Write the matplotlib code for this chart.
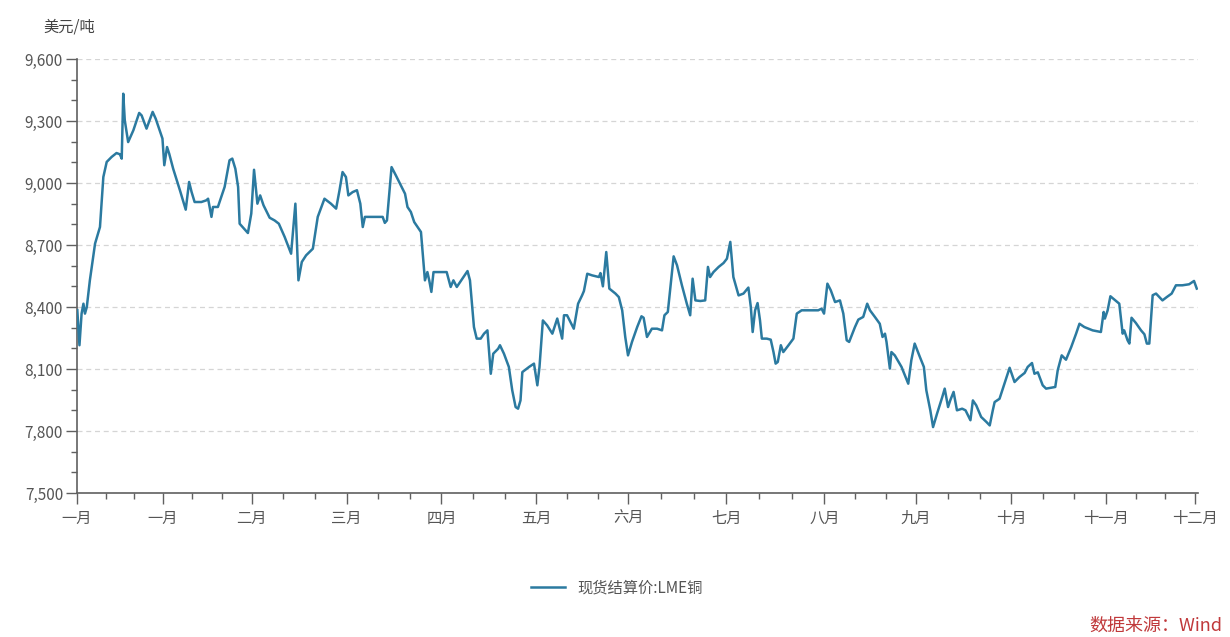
## LME copper settlement price, one year, line chart ##
import matplotlib
matplotlib.use('Agg')
import matplotlib.pyplot as plt
from matplotlib.ticker import FuncFormatter, FixedLocator

plt.rcParams['font.family'] = ['Noto Sans CJK SC', 'DejaVu Sans']

##############################################################################
#################################  Data  #####################################
##############################################################################
# day offsets (from the first tick) and price in USD/t
days = [0.1, 0.8, 1.5, 2.1, 2.6, 3.2, 4.2, 5.9, 7.0, 7.5, 8.6, 9.7, 11.3, 12.9,
        14.0, 14.6, 15.1, 15.6, 16.7, 18.4, 20.3, 21.1, 22.7, 24.7, 25.7, 27.0,
        27.9, 28.5, 29.4, 30.1, 31.4, 33.6, 35.5, 36.6, 37.4, 38.4, 40.6, 42.2,
        42.8, 43.9, 44.4, 46.0, 48.2, 49.8, 50.7, 51.7, 52.6, 53.1, 55.8, 56.9,
        57.8, 58.9, 59.8, 60.9, 62.9, 64.5, 65.9, 67.8, 69.9, 71.3, 72.3, 73.4,
        74.8, 77.0, 78.6, 80.8, 82.9, 84.6, 85.7, 86.7, 87.8, 88.6, 90.0, 91.4,
        92.5, 93.3, 94.0, 97.1, 99.8, 100.5, 101.2, 102.7, 104.1, 106.0, 107.1,
        107.9, 109.0, 110.1, 112.3, 113.6, 114.4, 115.0, 115.7, 116.4, 118.8,
        120.7, 122.0, 122.9, 124.0, 125.8, 127.5, 128.3, 129.6, 130.5, 131.8,
        132.9, 134.0, 135.1, 135.9, 137.5, 138.1, 139.4, 141.0, 142.1, 143.2,
        144.0, 144.8, 145.4, 147.6, 149.2, 150.3, 151.0, 152.1, 153.5, 155.2,
        156.8, 157.6, 158.4, 159.0, 160.0, 162.2, 163.6, 164.9, 165.5, 166.6,
        168.2, 170.4, 170.9, 171.7, 172.8, 173.8, 175.8, 176.9, 178.0, 179.0,
        179.9, 181.2, 182.9, 184.3, 185.0, 186.1, 187.7, 189.4, 191.0, 191.8,
        192.9, 194.8, 195.9, 197.5, 199.1, 200.2, 201.0, 201.9, 203.5, 205.1,
        206.0, 206.7, 207.8, 209.5, 211.1, 212.2, 213.3, 214.3, 216.0, 217.6,
        219.2, 220.0, 220.6, 221.4, 222.2, 223.0, 223.6, 225.2, 226.5, 227.4,
        228.1, 228.8, 229.8, 230.6, 232.3, 233.9, 235.0, 236.6, 239.3, 242.0,
        243.1, 243.9, 245.0, 246.1, 247.5, 249.1, 250.2, 251.3, 252.1, 254.0,
        255.1, 256.7, 258.0, 258.9, 260.5, 262.1, 263.0, 263.8, 264.3, 265.4,
        265.9, 267.0, 269.2, 271.4, 272.4, 273.5, 275.2, 276.5, 277.3, 278.6,
        279.5, 280.8, 282.5, 283.3, 284.4, 285.1, 286.2, 287.3, 289.0, 290.1,
        291.7, 292.5, 293.6, 295.2, 296.9, 298.0, 299.0, 299.6, 301.2, 302.8,
        304.5, 306.1, 307.7, 309.4, 310.4, 311.8, 312.6, 313.7, 315.3, 316.4,
        319.4, 320.2, 321.5, 322.9, 324.6, 326.2, 327.3, 328.9, 331.6, 334.3,
        335.2, 335.6, 336.5, 337.4, 338.7, 340.3, 341.4, 341.9, 343.0, 343.6,
        344.3, 345.7, 347.4, 348.5, 349.3, 350.1, 351.2, 352.3, 354.4, 355.8,
        357.4, 358.8, 360.9, 363.1, 364.7, 365.6]

price = [8385, 8215, 8368, 8416, 8368, 8400, 8529, 8707, 8763, 8787, 9029, 9102,
         9126, 9145, 9139, 9118, 9432, 9303, 9198, 9255, 9339, 9327, 9263, 9344,
         9311, 9255, 9215, 9086, 9174, 9142, 9069, 8965, 8871, 9005, 8957, 8908,
         8908, 8916, 8924, 8836, 8884, 8884, 8981, 9110, 9118, 9069, 8981, 8803,
         8758, 8852, 9064, 8900, 8940, 8892, 8832, 8819, 8803, 8739, 8658, 8900,
         8529, 8618, 8650, 8682, 8836, 8924, 8900, 8876, 8964, 9053, 9029, 8940,
         8956, 8965, 8900, 8787, 8836, 8836, 8836, 8807, 8819, 9077, 9037, 8981,
         8948, 8884, 8860, 8811, 8763, 8529, 8569, 8529, 8473, 8569, 8569, 8569,
         8497, 8529, 8497, 8537, 8574, 8529, 8303, 8247, 8247, 8271, 8287, 8077,
         8174, 8198, 8215, 8174, 8110, 7997, 7916, 7908, 7948, 8085, 8110, 8126,
         8021, 8110, 8335, 8311, 8271, 8344, 8295, 8247, 8360, 8360, 8295, 8416,
         8456, 8477, 8561, 8553, 8545, 8564, 8500, 8666, 8489, 8465, 8448, 8384,
         8255, 8166, 8231, 8303, 8355, 8348, 8255, 8295, 8295, 8287, 8360, 8376,
         8645, 8602, 8505, 8416, 8360, 8537, 8432, 8429, 8432, 8594, 8545, 8569,
         8594, 8613, 8634, 8715, 8545, 8456, 8465, 8494, 8400, 8279, 8384, 8419,
         8335, 8247, 8247, 8242, 8182, 8126, 8134, 8215, 8182, 8215, 8247, 8368,
         8384, 8384, 8384, 8392, 8368, 8513, 8481, 8424, 8432, 8368, 8239, 8231,
         8303, 8339, 8352, 8416, 8384, 8352, 8319, 8255, 8271, 8231, 8102, 8182,
         8166, 8110, 8029, 8142, 8223, 8158, 8110, 7997, 7900, 7819, 7884, 7964,
         8005, 7916, 7948, 7989, 7900, 7908, 7900, 7852, 7948, 7924, 7868, 7844,
         7827, 7900, 7940, 7956, 8029, 8106, 8037, 8061, 8081, 8110, 8129, 8077,
         8084, 8021, 8005, 8013, 8094, 8166, 8145, 8206, 8271, 8319, 8303, 8287,
         8279, 8376, 8344, 8384, 8452, 8436, 8416, 8271, 8287, 8239, 8223, 8348,
         8323, 8287, 8268, 8223, 8223, 8457, 8465, 8432, 8448, 8465, 8505, 8505,
         8510, 8526, 8489]

month_days = [0, 28, 57, 88, 119, 150, 180, 212, 244, 274, 305, 336, 365]
month_labels = ['一月', '一月', '二月', '三月', '四月', '五月', '六月', '七月',
                '八月', '九月', '十月', '十一月', '十二月']
y_ticks = [7500, 7800, 8100, 8400, 8700, 9000, 9300, 9600]

series_name = '现货结算价:LME铜'
unit_label = '美元/吨'
source_label = '数据来源：Wind'

##############################################################################
################################  Figure  ####################################
##############################################################################
W, H = 1230, 637
fig = plt.figure(figsize=(W / 100, H / 100), dpi=100)
ax = fig.add_axes([77 / W, 1 - 493 / H, (1198 - 77) / W, (493 - 59) / H])

line_color = '#2b7aa0'
axis_color = '#606060'
text_color = '#555555'

ax.plot(days, price, color=line_color, lw=1.8, label=series_name,
        solid_joinstyle='round', zorder=3)

ax.set_xlim(0, 366)
ax.set_ylim(7500, 9600)

# y axis
ax.set_yticks(y_ticks)
ax.yaxis.set_minor_locator(FixedLocator(range(7500, 9601, 100)))
ax.yaxis.set_major_formatter(FuncFormatter(lambda v, p: '{:,.0f}'.format(v)))

# x axis : months + two minor ticks per month
minor_x = []
for a, b in zip(month_days[:-1], month_days[1:]):
    minor_x += [a + (b - a) / 3.0, a + 2 * (b - a) / 3.0]
ax.set_xticks(month_days)
ax.set_xticklabels(month_labels)
ax.xaxis.set_minor_locator(FixedLocator(minor_x))

ax.tick_params(axis='both', which='major', direction='out', length=8, width=1,
               color=axis_color, labelcolor=text_color, labelsize=11)
ax.tick_params(axis='both', which='minor', direction='out', length=4, width=1,
               color=axis_color)
ax.tick_params(axis='x', which='major', pad=4)
ax.tick_params(axis='y', which='major', pad=2)

for s in ['top', 'right']:
    ax.spines[s].set_visible(False)
for s in ['left', 'bottom']:
    ax.spines[s].set_color(axis_color)
    ax.spines[s].set_linewidth(1.2)

# dashed horizontal grid
ax.grid(axis='y', which='major', linestyle=(0, (4, 3)), color='#d5d5d5', lw=0.9)
ax.set_axisbelow(True)

fig.text(43 / W, 1 - 27 / H, unit_label, fontsize=11, color='#444444',
         ha='left', va='center')

fig.legend(loc='center', bbox_to_anchor=(617 / W, 1 - 588 / H), frameon=False,
           fontsize=11, handlelength=2.2, labelcolor='#555555')

fig.text(1222 / W, 1 - 626 / H, source_label, fontsize=13, color='#c0393b',
         ha='right', va='center')

fig.savefig('out.png', dpi=100, facecolor='white')
